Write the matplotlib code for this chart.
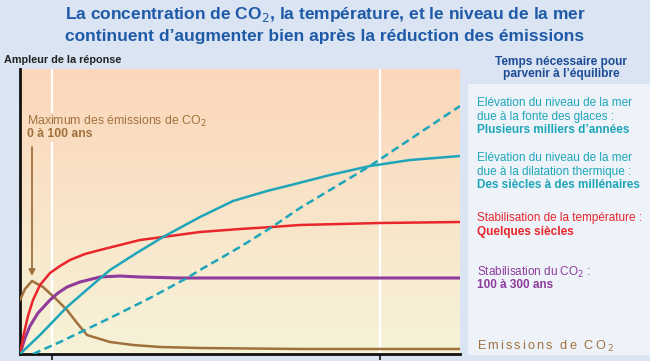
import numpy as np
import matplotlib
matplotlib.use("Agg")
import matplotlib.pyplot as plt

# ---- data (arbitrary response units) ----
em_x = [0, 5, 12, 23, 35, 47, 57, 67, 90, 113, 140, 180, 280, 440]
em_y = [54, 65, 73, 67, 56, 44, 31, 19, 12, 9, 7, 6, 5, 5]

temp_x = [0, 4, 8, 13, 20, 30, 40, 50, 65, 80, 100, 120, 143, 180, 220, 252, 280, 360, 440]
temp_y = [0, 21, 38, 54, 69, 81, 88, 94, 100, 104, 109, 114, 117, 122, 125, 127, 129, 131, 132]

co2_x = [0, 5, 10, 18, 30, 38, 47, 60, 80, 100, 120, 160, 440]
co2_y = [0, 16, 28, 41, 54, 61, 67, 72, 77, 78, 77, 76, 76]

thermal_x = [0, 20, 47, 70, 90, 115, 143, 180, 213, 247, 275, 310, 350, 390, 440]
thermal_y = [0, 19, 47, 67, 84, 100, 117, 137, 153, 163, 170, 179, 188, 194, 198]

ice_x = [13, 40, 90, 130, 167, 180, 220, 252, 280, 315, 350, 395, 440]
ice_y = [0, 12, 36, 56, 76, 84, 107, 127, 146, 167, 188, 218, 248]

tick_positions = [32, 360]
peak_x = 12

plt.rcParams['font.family'] = ['Liberation Sans', 'DejaVu Sans']

BROWN = '#a0713c'
RED = '#e8262b'
PURPLE = '#8e3b9c'
CYAN = '#1ea5b9'
TITLE = '#1f5aa8'
HEAD = '#1c4c96'

W, H = 650, 361
fig = plt.figure(figsize=(W / 100, H / 100), dpi=100)
fig.patch.set_facecolor('#dae4f2')

# right panel
panel = fig.add_axes([468 / W, (361 - 355) / H, (650 - 468) / W, (355 - 84) / H])
panel.set_facecolor('#eef3fa')
panel.set_xticks([]); panel.set_yticks([])
for s in panel.spines.values():
    s.set_visible(False)

ax = fig.add_axes([20 / W, (361 - 354) / H, 440 / W, 285 / H])
ax.set_xlim(0, 440)
ax.set_ylim(0, 285)

# gradient background
top = np.array([252, 214, 186]) / 255
bot = np.array([246, 243, 216]) / 255
t = np.linspace(0, 1, 256)[:, None]
grad = (top * (1 - t) + bot * t)[:, None, :]
ax.imshow(grad, extent=[0, 440, 0, 285], aspect='auto', origin='upper', zorder=0)

# white vertical lines
ax.plot([tick_positions[0]] * 2, [0, 211], color='white', lw=1.6, zorder=1)
ax.plot([tick_positions[0]] * 2, [242, 285], color='white', lw=1.6, zorder=1)
ax.plot([tick_positions[1]] * 2, [0, 285], color='white', lw=1.6, zorder=1)

ax.plot(em_x, em_y, color=BROWN, lw=1.8, zorder=3)
ax.plot(co2_x, co2_y, color=PURPLE, lw=2.2, zorder=3)
ax.plot(temp_x, temp_y, color=RED, lw=1.8, zorder=3)
ax.plot(thermal_x, thermal_y, color=CYAN, lw=1.8, zorder=3)
ax.plot(ice_x, ice_y, color=CYAN, lw=1.8, ls=(0, (3.2, 1.8)), zorder=3)

ax.annotate('', xy=(peak_x, 78), xytext=(peak_x, 207),
            arrowprops=dict(arrowstyle='-|>', color=BROWN, lw=1.3,
                            mutation_scale=9, shrinkA=0, shrinkB=0), zorder=4)
ax.text(7, 233, 'Maximum des émissions de CO$_2$', color=BROWN, fontsize=8.8,
        va='center', ha='left')
ax.text(7, 220, '0 à 100 ans', color=BROWN, fontsize=8.8, fontweight='bold',
        va='center', ha='left')

for s in ['top', 'right']:
    ax.spines[s].set_visible(False)
for s in ['left', 'bottom']:
    ax.spines[s].set_linewidth(2)
    ax.spines[s].set_color('#111111')
ax.set_xticks(tick_positions)
ax.set_xticklabels([])
ax.set_yticks([])
ax.tick_params(axis='x', direction='out', length=4, width=1.2, color='#111111')

def ftext(x, y, s, **kw):
    fig.text(x / W, 1 - y / H, s, **kw)

ftext(325, 14, 'La concentration de CO$_2$, la température, et le niveau de la mer',
      ha='center', va='center', fontsize=12.5, color=TITLE, fontweight='bold')
ftext(325, 36, 'continuent d\u2019augmenter bien après la réduction des émissions',
      ha='center', va='center', fontsize=12.5, color=TITLE, fontweight='bold')
ftext(4, 60, 'Ampleur de la réponse', ha='left', va='center', fontsize=7.8,
      color='#222222', fontweight='bold')
ftext(561, 62, 'Temps nécessaire pour', ha='center', va='center', fontsize=8.6,
      color=HEAD, fontweight='bold')
ftext(561, 74, 'parvenir à l\u2019équilibre', ha='center', va='center', fontsize=8.6,
      color=HEAD, fontweight='bold')

lx = 477
fs = 8.5
ftext(lx, 103, 'Elévation du niveau de la mer', color=CYAN, fontsize=fs, va='center')
ftext(lx, 117, 'due à la fonte des glaces :', color=CYAN, fontsize=fs, va='center')
ftext(lx, 130, 'Plusieurs milliers d\u2019années', color=CYAN, fontsize=fs, va='center', fontweight='bold')
ftext(lx, 158, 'Elévation du niveau de la mer', color=CYAN, fontsize=fs, va='center')
ftext(lx, 172, 'due à la dilatation thermique :', color=CYAN, fontsize=fs, va='center')
ftext(lx, 185, 'Des siècles à des millénaires', color=CYAN, fontsize=fs, va='center', fontweight='bold')
ftext(lx, 218, 'Stabilisation de la température :', color=RED, fontsize=fs, va='center')
ftext(lx, 232, 'Quelques siècles', color=RED, fontsize=fs, va='center', fontweight='bold')
ftext(lx, 272, 'Stabilisation du CO$_2$ :', color=PURPLE, fontsize=fs, va='center')
ftext(lx, 285, '100 à 300 ans', color=PURPLE, fontsize=fs, va='center', fontweight='bold')
ts = '\u2006'
ftext(lx, 346, ts.join('Emissions de CO') + ts + '$_2$', color=BROWN, fontsize=9.2, va='center')

fig.savefig('out.png', dpi=100, facecolor=fig.get_facecolor())
